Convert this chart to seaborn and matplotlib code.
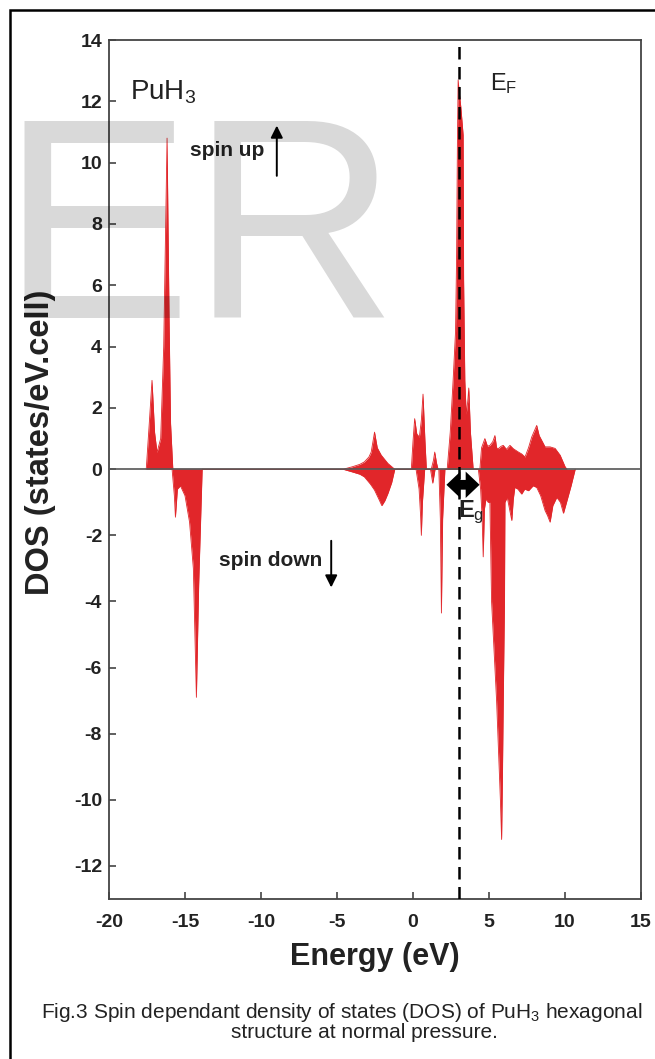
import numpy as np
import pandas as pd
import seaborn as sns
import matplotlib.pyplot as plt
from matplotlib.patches import Rectangle

# ==================================================
# data (energy in eV, DOS in states/eV.cell)
# ==================================================

energy_up = [
    -17.55, -17.35, -17.17, -17.0, -16.84, -16.6, -16.4, -16.18, -16.05, -15.95, -15.8,
    -4.6, -4.0, -3.5, -3.2, -2.9, -2.75, -2.53, -2.35, -2.2, -2.09, -1.65, -1.2,
    -0.11, 0.0, 0.11, 0.25, 0.42, 0.55, 0.66, 0.78, 0.88,
    1.2, 1.35, 1.43, 1.55, 1.65,
    2.25, 2.45, 2.64, 2.8, 2.87, 2.92, 2.97, 3.02, 3.15, 3.3, 3.33, 3.41, 3.5, 3.6, 3.67, 3.78, 3.96,
    4.4, 4.51, 4.73, 4.9, 5.06, 5.25, 5.39, 5.5, 5.61, 5.8, 5.94, 6.15, 6.38, 6.6, 6.94,
    7.15, 7.37, 7.6, 7.81, 8.14, 8.3, 8.47, 8.69, 9.02, 9.35, 9.68, 10.01, 10.13,
]
dos_up = [
    0, 1.5, 2.9, 1.2, 0.55, 1.0, 4.0, 10.8, 5.0, 1.5, 0,
    0, 0.08, 0.16, 0.24, 0.4, 0.56, 1.21, 0.7, 0.56, 0.46, 0.19, 0,
    0, 0.9, 1.65, 1.15, 1.05, 1.6, 2.45, 1.0, 0,
    0, 0.3, 0.56, 0.2, 0,
    0, 1.2, 2.9, 4.5, 7.0, 10.5, 12.7, 12.4, 11.8, 10.9, 6.2, 2.9, 1.8, 2.2, 2.65, 1.2, 0,
    0, 0.7, 1.0, 0.75, 0.78, 0.9, 1.1, 0.7, 0.67, 0.75, 0.78, 0.65, 0.78, 0.67, 0.56,
    0.5, 0.4, 0.7, 1.05, 1.43, 1.1, 0.94, 0.73, 0.73, 0.68, 0.46, 0.08, 0,
]

energy_dn = [
    -15.85, -15.7, -15.63, -15.5, -15.3, -15.0, -14.7, -14.45, -14.25, -14.1, -13.87,
    -4.6, -4.0, -3.5, -3.2, -2.8, -2.53, -2.25, -2.05, -1.85, -1.65, -1.4, -1.2,
    0.2, 0.4, 0.5, 0.55, 0.62, 0.77,
    1.15, 1.3, 1.45,
    1.7, 1.8, 1.87, 1.95, 2.1,
    4.3, 4.45, 4.55, 4.62, 4.7, 4.8, 4.95, 5.06, 5.17, 5.5, 5.75, 5.83, 5.88, 5.94, 6.02, 6.05,
    6.2, 6.35, 6.5, 6.6, 6.7, 6.9, 7.15, 7.35, 7.6, 7.9, 8.14, 8.4, 8.69, 8.85, 9.02, 9.2,
    9.46, 9.7, 9.9, 10.1, 10.4, 10.67,
]
dos_dn = [
    0, -0.8, -1.45, -0.6, -0.5, -0.8, -1.6, -3.0, -6.9, -3.5, 0,
    0, -0.08, -0.15, -0.23, -0.45, -0.63, -0.9, -1.1, -0.95, -0.73, -0.4, 0,
    0, -0.6, -1.4, -2.0, -1.0, 0,
    0, -0.42, 0,
    0, -1.5, -4.35, -1.5, 0,
    0, -0.6, -1.5, -2.65, -1.2, -0.9, -1.0, -1.0, -4.0, -7.0, -10.0, -11.2, -9.5, -7.0, -4.0, -1.0,
    -0.85, -1.2, -1.55, -0.9, -0.55, -0.6, -0.75, -0.6, -0.65, -0.5, -0.55, -0.8, -1.25, -1.4, -1.6, -1.1,
    -0.85, -1.0, -1.33, -1.0, -0.5, 0,
]

x_ticks = [-20, -15, -10, -5, 0, 5, 10, 15]
y_ticks = [-12, -10, -8, -6, -4, -2, 0, 2, 4, 6, 8, 10, 12, 14]
fermi_level = 3.0
gap_edges = [2.2, 4.38]

caption_1 = "Fig.3 Spin dependant density of states (DOS) of PuH$_3$ hexagonal"
caption_2 = "structure at normal pressure."

up_df = pd.DataFrame({"energy": energy_up, "dos": dos_up})
dn_df = pd.DataFrame({"energy": energy_dn, "dos": dos_dn})

# ==================================================
# style
# ==================================================

sns.set_style("ticks")
plt.rcParams["font.family"] = ["Liberation Sans", "DejaVu Sans"]
plt.rcParams["mathtext.fontset"] = "custom"
plt.rcParams["mathtext.rm"] = "Liberation Sans"
plt.rcParams["mathtext.bf"] = "Liberation Sans:bold"
plt.rcParams["mathtext.it"] = "Liberation Sans:italic"

RED = "#e1262a"
INK = "#222222"

fig = plt.figure(figsize=(6.55, 10.59), dpi=100)
ax = fig.add_axes([0.1664, 0.1511, 0.8122, 0.8111])

# the scanned original has a slightly taller lower half
k_neg = 33.1 / 30.7


def fwd(y):
    y = np.asarray(y, dtype=float)
    return np.where(y < 0, y * k_neg, y)


def inv(y):
    y = np.asarray(y, dtype=float)
    return np.where(y < 0, y / k_neg, y)


ax.set_yscale("function", functions=(fwd, inv))

# ==================================================
# DOS
# ==================================================

for d in (up_df, dn_df):
    ax.fill_between(d["energy"], d["dos"], 0, color=RED, lw=0, zorder=2)
    sns.lineplot(data=d, x="energy", y="dos", ax=ax, color=RED, lw=0.6,
                 estimator=None, sort=False, zorder=2)

ax.axhline(0, color="#555555", lw=1.2, zorder=3)
ax.axvline(fermi_level, color="black", lw=1.8, ls=(0, (5, 3)), zorder=4)

ax.set_xlim(-20, 15)
ax.set_ylim(-13, 14)
ax.set_xticks(x_ticks)
ax.set_yticks(y_ticks)
ax.set_xticklabels([str(t) for t in x_ticks])
ax.set_yticklabels([str(t) for t in y_ticks])

ax.tick_params(direction="in", length=5, width=1.2, color="#444444",
               labelsize=14, labelcolor=INK, top=False, right=False)
ax.tick_params(axis="y", pad=5)
ax.tick_params(axis="x", pad=11)
plt.setp(ax.get_xticklabels() + ax.get_yticklabels(), fontweight="bold")

for s in ax.spines.values():
    s.set_color("#444444")
    s.set_linewidth(1.3)

ax.set_xlabel("Energy (eV)", fontsize=22, fontweight="bold", color=INK, labelpad=8)
ax.set_ylabel("DOS (states/eV.cell)", fontsize=23.5, fontweight="bold", color=INK)
ax.yaxis.set_label_coords(-0.1, 0.532)

# ==================================================
# annotations
# ==================================================

ax.text(-18.6, 12.3, r"$\mathrm{PuH_3}$", fontsize=20, color=INK, va="center", ha="left")
ax.text(5.04, 12.57, r"$\mathrm{E_F}$", fontsize=17, color=INK, va="center", ha="left")

ax.text(-14.64, 10.39, "spin up", fontsize=15, fontweight="bold", color=INK,
        va="center", ha="left")
ax.annotate("", xy=(-8.96, 11.3), xytext=(-8.96, 9.48),
            arrowprops=dict(arrowstyle="-|>", color="black", lw=1.4, mutation_scale=18))

ax.text(-12.79, -2.75, "spin down", fontsize=15, fontweight="bold", color=INK,
        va="center", ha="left")
ax.annotate("", xy=(-5.38, -3.66), xytext=(-5.38, -2.08),
            arrowprops=dict(arrowstyle="-|>", color="black", lw=1.4, mutation_scale=18))

# band gap double arrow: two filled arrows pointing out from the middle
gap_mid = (gap_edges[0] + gap_edges[1]) / 2
for edge in gap_edges:
    ax.annotate("", xy=(edge, -0.47), xytext=(gap_mid, -0.47),
                arrowprops=dict(arrowstyle="simple,head_length=0.5,head_width=0.95,tail_width=0.35",
                                color="black", lw=0, mutation_scale=20,
                                shrinkA=0, shrinkB=0), zorder=5)
ax.text(2.99, -1.3, r"$\mathbf{E}_\mathrm{g}$", fontsize=17, color=INK,
        va="center", ha="left", zorder=5)

# ==================================================
# caption, frame and watermark
# ==================================================

fig.text(342 / 655, 1 - 1012 / 1059, caption_1, fontsize=15, color=INK,
         ha="center", va="center")
fig.text(364 / 655, 1 - 1032 / 1059, caption_2, fontsize=15, color=INK,
         ha="center", va="center")

fig.add_artist(Rectangle((10 / 655, -0.05), 1.1, 1.05 - 10 / 1059,
                         transform=fig.transFigure, fill=False,
                         edgecolor="black", lw=1.8))

fig.text(0, 1 - 318 / 1059, "ER", fontsize=206, color="black", alpha=0.15,
         ha="left", va="baseline", zorder=10)

plt.savefig("out.png", dpi=100)
plt.close()
